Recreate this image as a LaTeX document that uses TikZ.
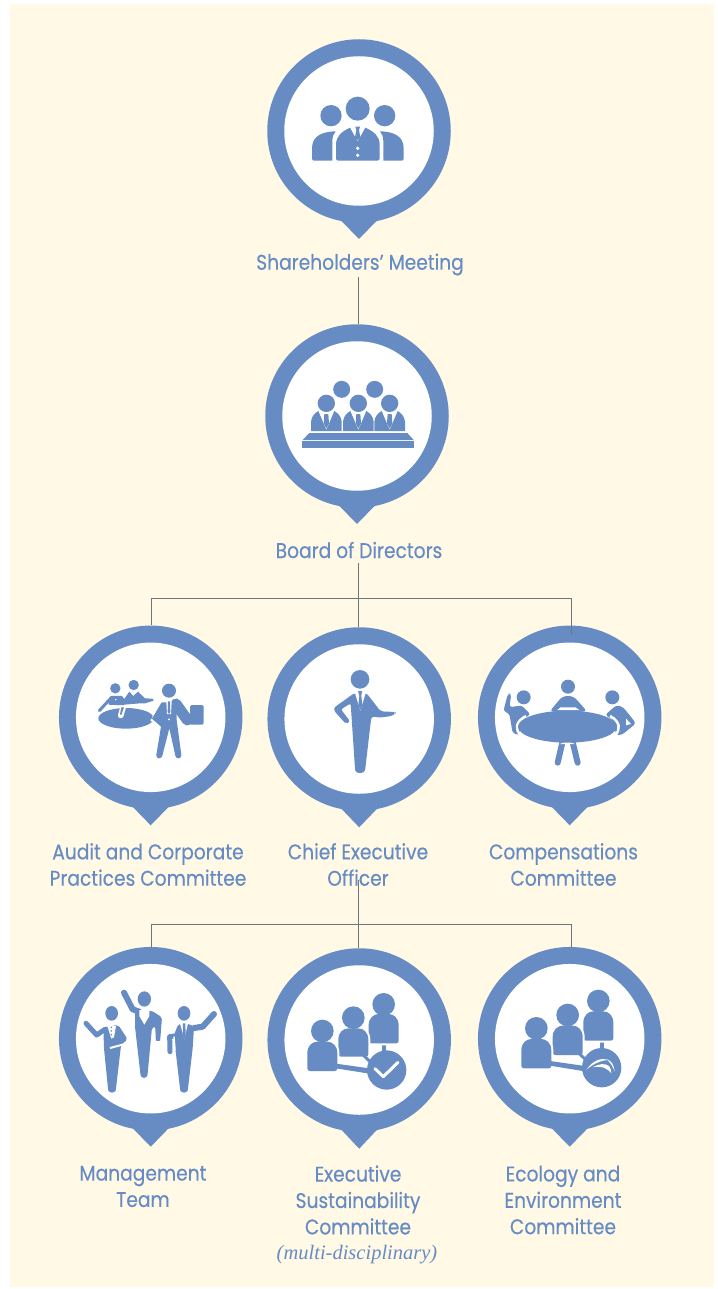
\documentclass[tikz,border=0pt]{standalone}
\usepackage{fontspec}
\setmainfont{Poppins}[FakeStretch=0.88,FakeBold=0.35]
\newfontfamily\noteface{Liberation Serif}
\definecolor{pinblue}{HTML}{678CC4}
\definecolor{paper}{HTML}{FFF9E6}
\definecolor{linkgrey}{HTML}{6B7680}
\tikzset{
  ring/.style={circle,fill=pinblue,minimum size=183.5pt,inner sep=0pt},
  hole/.style={circle,fill=white,minimum size=149.5pt,inner sep=0pt},
  lbl/.style={text=pinblue,font=\fontsize{21.2}{26.4}\selectfont,align=center,inner sep=0pt},
  conn/.style={draw=linkgrey,line width=0.9pt},
  ico/.style={fill=pinblue,draw=none},
  gap/.style={draw=white,line width=2pt},
  limb/.style={draw=pinblue,line width=#1,line cap=round,line join=round},
  halo/.style={draw=white,line width=#1,line cap=round,line join=round},
}
\newcommand{\pinmark}[4]{%
  \node[ring] (#1) at (#2,#3) {};
  \fill[pinblue] (#2-18.5,#3+89) -- (#2,#4) -- (#2+18.5,#3+89) -- cycle;
  \node[hole] (#1h) at (#2,#3) {};
}
% person: centre x, head centre y, body top y, body bottom y
\newcommand{\bodyshape}[3]{%
  (#1-45,#2+34) .. controls (#1-45,#2+12) and (#1-30,#2) .. (#1-15,#2) -- (#1+15,#2) .. controls (#1+30,#2) and (#1+45,#2+12) .. (#1+45,#2+34) -- (#1+45,#3-8) .. controls (#1+45,#3-3) and (#1+42,#3) .. (#1+37,#3) -- (#1-37,#3) .. controls (#1-42,#3) and (#1-45,#3-3) .. (#1-45,#3-8) -- cycle}
\newcommand{\personico}[4]{%
  \draw[draw=white,line width=4pt,fill=white] (#1,#2) circle[radius=34];
  \draw[draw=white,line width=4pt,fill=white] \bodyshape{#1}{#3}{#4};
  \fill[ico] (#1,#2) circle[radius=34];
  \fill[ico] \bodyshape{#1}{#3}{#4};
}
\begin{document}
\begin{tikzpicture}[x=1pt,y=-1pt]
\useasboundingbox (0,0) rectangle (717,1289);
\fill[white] (0,0) rectangle (717,1289);
\fill[paper] (10,4) rectangle (714,1287);

\pinmark{p1}{359}{131}{239}
\pinmark{p2}{357}{416}{524}
\pinmark{p3}{150.7}{717.3}{825.3}
\pinmark{p4}{359.2}{719}{827.3}
\pinmark{p5}{569.7}{717.3}{825.3}
\pinmark{p6}{150.7}{1038.7}{1146.7}
\pinmark{p7}{359.2}{1040}{1148.7}
\pinmark{p8}{569.7}{1038.7}{1146.7}

% connectors
\coordinate (ja) at (358.6,598);
\coordinate (jb) at (358.6,924);
\coordinate (la) at (151,598);
\coordinate (ra) at (571,598);
\coordinate (lb) at (151,924);
\coordinate (rb) at (571,924);
\coordinate (s1) at (358.6,277);
\coordinate (s2) at (358.6,563);
\coordinate (s3) at (358.6,880);
\draw[conn] (s1) -- (p2.north -| s1);
\draw[conn] (s2) -- (p4.north -| s2);
\draw[conn] (la) -- (ra);
\draw[conn] (la) -- (p3.north -| la);
\draw[conn] (ra) -- ++(0,37);
\draw[conn] (s3) -- (p7.north -| s3);
\draw[conn] (lb) -- (rb);
\draw[conn] (lb) -- (p6.north -| lb);
\draw[conn] (rb) -- (p8.north -| rb);

% labels
\node[lbl] (l1) at (360,264.5) {Shareholders’ Meeting};
\node[lbl] (l2) at (359,550) {Board of Directors};
\node[lbl] (l3) at (148,864.5) {Audit and Corporate\\Practices Committee};
\node[lbl] (l4) at (358,864.5) {Chief Executive\\Officer};
\node[lbl] (l5) at (563.5,864.5) {Compensations\\Committee};
\node[lbl] (l6) at (143,1186.5) {Management\\Team};
\node[lbl] (l7) at (358,1200) {Executive\\Sustainability\\Committee};
\node[lbl] (l8) at (563,1200) {Ecology and\\Environment\\Committee};
\node[text=pinblue,font=\noteface\itshape\fontsize{20.5}{22}\selectfont,inner sep=0pt] (l9) at (357,1255) {(multi-disciplinary)};

% icon 1
\begin{scope}[shift={(250,30)},x=1/3*1pt,y=-1/3*1pt]
\fill[ico] (323,236) circle[radius=36];
\fill[ico] (243,257) circle[radius=32];
\fill[ico] (404,257) circle[radius=32];
\fill[ico] (192,392) .. controls (188,392) and (186,389) .. (186,385) -- (186,355) .. controls (186,322) and (210,305) .. (257,304) .. controls (250,312) and (247,320) .. (247,335) -- (247,392) -- cycle;
\fill[ico] (455,392) .. controls (459,392) and (461,389) .. (461,385) -- (461,355) .. controls (461,322) and (437,305) .. (390,304) .. controls (397,312) and (400,320) .. (400,335) -- (400,392) -- cycle;
\fill[ico] (265,392) .. controls (260,392) and (258,389) .. (258,385) -- (258,345) .. controls (258,318) and (275,305) .. (300,293) -- (323,335) -- (346,293) .. controls (372,305) and (389,318) .. (389,345) -- (389,385) .. controls (389,389) and (386,392) .. (382,392) -- cycle;
\fill[ico] (316,290) -- (330,290) -- (327,300) -- (331,322) -- (323,332) -- (315,322) -- (319,300) -- cycle;
\fill[white] (323,355) circle[radius=5.5];
\fill[white] (323,376) circle[radius=5.5];
\end{scope}

% icon 2
\begin{scope}[shift={(250,320)},x=1/3*1pt,y=-1/3*1pt]
\fill[ico] (275,208) circle[radius=25.5];
\fill[ico] (374,208) circle[radius=25.5];
\foreach \c in {229,325,419}{
  \begin{scope}[shift={(\c,0)}]
  \fill[white] (0,250) circle[radius=29];
  \fill[ico] (0,250) circle[radius=26];
  \fill[ico] (-46,333) -- (-46,305) .. controls (-44,288) and (-35,280) .. (-24,273) -- (0,330) -- (24,273) .. controls (35,280) and (44,288) .. (46,305) -- (46,333) -- cycle;
  \fill[ico] (-6,282) -- (6,282) -- (8,310) -- (0,326) -- (-8,310) -- cycle;
  \end{scope}
}
\fill[ico] (178,339) -- (472,339) -- (491,360) -- (158,360) -- cycle;
\fill[ico] (156,363) rectangle (492,383);
\end{scope}

% icon 3
\begin{scope}[shift={(50,620)},x=1/3*1pt,y=-1/3*1pt]
\fill[ico] (228,295) ellipse[x radius=83,y radius=31];
\fill[ico] (196,205) circle[radius=15.5];
\fill[ico] (251,195) circle[radius=15.5];
\draw[halo=4pt] (150,275) -- (185,240) -- (300,250);
\draw[limb=3pt] (148,272) -- (185,232) -- (215,232);
\fill[ico] (180,232) -- (190,228) -- (197,243) -- (205,228) -- (222,235) -- (222,256) -- (175,254) -- cycle;
\fill[ico] (222,238) -- (238,215) -- (250,228) -- (264,215) -- (285,235) -- (308,236) -- (311,242) -- (285,250) -- (270,250) -- (222,254) -- cycle;
\fill[white] (212,256) -- (230,256) -- (220,290) .. controls (215,298) and (203,296) .. (204,285) -- cycle;
\fill[ico] (214,262) -- (222,262) -- (214,285) -- (210,283) -- cycle;
\draw[line width=8pt,white,line cap=round,line join=round] (318,296) -- (340,248) -- (378,248) -- (420,300);
\draw[line width=5pt,white,line join=round] (306,295) -- (328,318) -- (318,412) -- (396,412) -- (378,300);
\fill[ico] (357,212) circle[radius=21];
\fill[ico] (335,247) -- (380,247) -- (380,300) -- (394,405) .. controls (395,417) and (378,419) .. (376,407) -- (358,325) -- (337,407) .. controls (334,419) and (317,417) .. (319,405) -- (333,320) -- (306,296) -- cycle;
\draw[limb=11pt] (378,252) -- (412,300);
\fill[white] (349,245) -- (365,245) -- (363,282) -- (351,282) -- cycle;
\fill[ico] (354,244) -- (360,244) -- (361,276) -- (357,282) -- (353,276) -- cycle;
\fill[white] (357,298) circle[radius=3];
\fill[ico,rounded corners=1.5pt] (420,255) rectangle (461,314);
\end{scope}

% icon 4
\begin{scope}[shift={(260,620)},x=1/3*1pt,y=-1/3*1pt]
\fill[ico] (300,178) circle[radius=28];
\fill[ico,rounded corners=2pt] (282,220) -- (222,263) -- (222,272) -- (258,312) -- (270,304) -- (243,268) -- (272,250) -- (285,445) .. controls (287,462) and (313,462) .. (316,445) -- (334,290) -- (345,290) -- (358,293) -- (395,288) -- (408,280) -- (406,276) -- (362,274) -- (320,220) -- cycle;
\fill[white] (284,216) -- (318,216) -- (301,272) -- cycle;
\fill[ico] (294,213) -- (306,213) -- (304,228) -- (307,255) -- (301,270) -- (295,255) -- (298,228) -- cycle;
\end{scope}

% icon 5
\begin{scope}[shift={(470,620)},x=1/3*1pt,y=-1/3*1pt]
\draw[limb=6pt] (280,355) -- (263,428);
\draw[limb=6pt] (305,355) -- (323,428);
\fill[white] (292,362) -- (270,372) -- (314,372) -- cycle;
\fill[ico] (294,200) circle[radius=21];
\fill[ico,rounded corners=4pt] (238,275) -- (278,228) -- (310,228) -- (352,275) -- cycle;
\fill[white] (272,262) -- (316,262) -- (328,270) -- (262,270) -- cycle;
\fill[ico] (161,232) circle[radius=21];
\fill[ico] (427,232) circle[radius=21];
\fill[ico,rounded corners=3pt] (114,220) -- (124,222) -- (118,262) -- (155,256) -- (182,284) -- (150,300) -- (150,345) -- (128,340) -- (118,280) -- (100,274) -- cycle;
\fill[ico,rounded corners=3pt] (405,285) -- (440,255) -- (460,262) -- (498,310) -- (455,345) -- (438,345) -- (430,300) -- cycle;
\fill[white] (468,296) -- (483,312) -- (468,316) -- cycle;
\draw[line width=2.5pt,white] (168,288) .. controls (135,305) and (135,330) .. (152,345);
\draw[line width=2.5pt,white] (420,288) .. controls (452,305) and (452,330) .. (435,345);
\fill[ico] (292,320) ellipse[x radius=148,y radius=48];
\end{scope}

% icon 6
\begin{scope}[shift={(50,940)},x=1/3*1pt,y=-1/3*1pt]
% person 1
\fill[ico] (185,220) ellipse[x radius=19,y radius=22];
\draw[limb=5pt] (108,250) -- (140,285) -- (165,268);
\fill[ico,rounded corners=2pt] (160,262) -- (205,255) -- (233,298) -- (214,314) -- (212,325) -- (198,445) .. controls (196,460) and (176,460) .. (174,445) -- (162,325) -- cycle;
\fill[white] (172,258) -- (198,258) -- (192,292) -- (184,296) -- cycle;
\fill[ico] (184,262) circle[radius=2.6] (184,273) circle[radius=2.6] (184,284) circle[radius=2.6];
\draw[gap] (180,324) -- (225,312);
% person 2
\fill[ico] (283,177) ellipse[x radius=20,y radius=23];
\draw[limb=6pt] (222,158) -- (248,208) -- (268,215);
\fill[ico,rounded corners=2pt] (255,215) -- (305,212) -- (336,232) -- (331,296) .. controls (330,303) and (318,303) .. (317,296) -- (316,260) -- (306,262) -- (293,400) .. controls (291,416) and (273,416) .. (271,400) -- (255,260) -- cycle;
\fill[white] (268,210) -- (298,210) -- (298,228) -- (283,254) -- (268,228) -- cycle;
% person 3
\fill[ico] (402,220) ellipse[x radius=19,y radius=22];
\draw[limb=6pt] (492,222) -- (458,260) -- (432,264);
\fill[ico,rounded corners=2pt] (385,252) -- (420,252) -- (432,262) -- (428,325) -- (414,445) .. controls (412,460) and (392,460) .. (390,445) -- (376,325) -- (370,290) -- cycle;
\fill[white] (390,250) -- (414,250) -- (403,298) -- cycle;
\fill[ico] (399,250) -- (406,250) -- (407,285) -- (403,298) -- (398,285) -- cycle;
\draw[limb=5pt] (372,288) -- (359,290) -- (360,335);
\draw[line width=1.5pt,white] (372,290) -- (375,330);
\end{scope}

% icon 7
\begin{scope}[shift={(260,940)},x=1/3*1pt,y=-1/3*1pt]
\draw[limb=4pt,line cap=butt] (372,305) -- (372,340);
\personico{371}{193}{222}{310}
\personico{280}{233}{265}{350}
\personico{187}{273}{305}{393}
\fill[ico] (228,371) -- (335,386) -- (335,402) -- (228,385) -- cycle;
\draw[limb=3pt] (310,345) -- (335,370);
\fill[ico] (380,390) circle[radius=59];
\draw[line width=3pt,white,line cap=round,line join=round] (345,386) -- (370,410) -- (414,367);
\end{scope}

% icon 8
\begin{scope}[shift={(470,940)},x=1/3*1pt,y=-1/3*1pt]
\draw[limb=4pt,line cap=butt] (397,298) -- (397,335);
\personico{385}{183}{214}{302}
\personico{293}{225}{257}{345}
\personico{199}{265}{297}{385}
\fill[ico] (240,363) -- (345,378) -- (345,394) -- (240,377) -- cycle;
\draw[limb=3pt] (325,338) -- (350,362);
\fill[ico] (395,383) circle[radius=59];
\fill[white] (350,388) .. controls (368,362) and (392,352) .. (415,360) .. controls (398,360) and (375,368) .. (350,388) -- cycle;
\fill[white] (368,382) .. controls (385,372) and (405,368) .. (417,378) .. controls (422,385) and (424,392) .. (424,400) .. controls (414,386) and (395,376) .. (368,382) -- cycle;
\fill[white] (410,358) .. controls (425,362) and (432,375) .. (434,395) .. controls (428,378) and (420,366) .. (410,358) -- cycle;
\end{scope}
\end{tikzpicture}
\end{document}
